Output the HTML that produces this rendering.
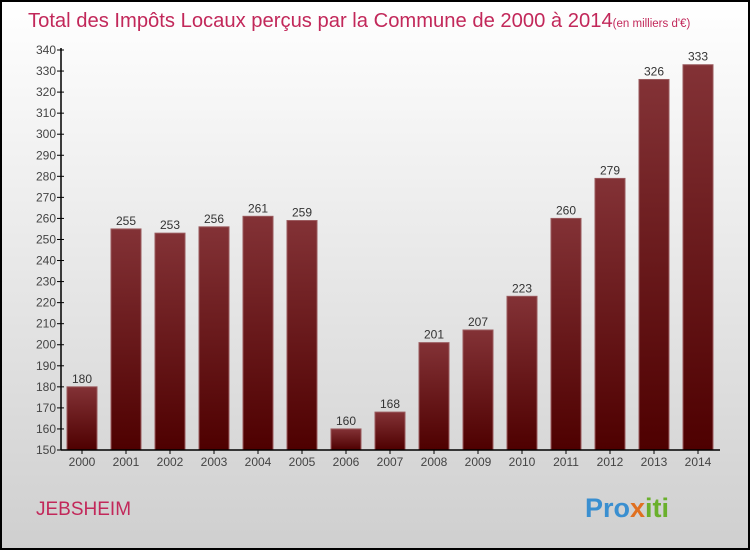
<!DOCTYPE html>
<html><head><meta charset="utf-8"><style>
body{margin:0;width:750px;height:550px;overflow:hidden;font-family:"Liberation Sans",sans-serif}
</style></head><body>
<svg width="750" height="550">
<defs>
<linearGradient id="bg" x1="0" y1="0" x2="0" y2="1"><stop offset="0" stop-color="#ffffff"/><stop offset="1" stop-color="#cfcfcf"/></linearGradient>
<linearGradient id="bar" x1="0" y1="0" x2="0" y2="1"><stop offset="0" stop-color="#833236"/><stop offset="1" stop-color="#4e0000"/></linearGradient>
</defs>
<rect x="1" y="1" width="748" height="548" fill="url(#bg)" stroke="#000" stroke-width="2"/>
<text x="28" y="27" font-size="20.2" fill="#c2285a">Total des Impôts Locaux perçus par la Commune de 2000 à 2014<tspan font-size="11.5">(en milliers d'€)</tspan></text>
<text x="36" y="515" font-size="19" fill="#c2285a">JEBSHEIM</text>
<text x="585" y="517" font-size="27" font-weight="bold" fill="#3a8fd0">Pro<tspan fill="#e07020">x</tspan><tspan fill="#6ab02c">iti</tspan></text>
<g id="plot"></g>
</svg>
<script>
const categories=["2000","2001","2002","2003","2004","2005","2006","2007","2008","2009","2010","2011","2012","2013","2014"];
const values=[180,255,253,256,261,259,160,168,201,207,223,260,279,326,333];
const yTicks=[150,160,170,180,190,200,210,220,230,240,250,260,270,280,290,300,310,320,330,340];
const NS="http://www.w3.org/2000/svg";
const g=document.getElementById('plot');
const x0=61,yMin=150,yMax=340,yTop=50,yBot=450;
const y=v=>yBot-(v-yMin)/(yMax-yMin)*(yBot-yTop);
const xc=i=>82+i*44;
function el(t,a,txt){const e=document.createElementNS(NS,t);for(const k in a)e.setAttribute(k,a[k]);if(txt!==undefined)e.textContent=txt;g.appendChild(e);return e;}
yTicks.forEach(t=>{
 const l=el('line',{x1:x0-4,x2:x0+3,y1:y(t),y2:y(t),stroke:'#000'});
 
 
 const tx=el('text',{x:x0-5,y:y(t)+4,'font-size':12,fill:'#444','text-anchor':'end'},t);
 
 
});
values.forEach((v,i)=>{
 const r=el('rect',{x:xc(i)-15,y:y(v),width:30,height:yBot-y(v),fill:'url(#bar)',stroke:'#9a5a5d','stroke-width':1});
 
 
 const vl=el('text',{x:xc(i),y:y(v)-4,'font-size':12,fill:'#333','text-anchor':'middle'},v);
 
 
 const tk=el('line',{x1:xc(i),x2:xc(i),y1:yBot,y2:yBot+4,stroke:'#000'});
 
 
 const cl=el('text',{x:xc(i),y:yBot+16,'font-size':12,fill:'#444','text-anchor':'middle'},categories[i]);
 
 
});
const ya=el('line',{x1:x0,x2:x0,y1:yTop-2,y2:yBot,stroke:'#000','stroke-width':1.5});


const xa=el('line',{x1:x0,x2:720,y1:yBot,y2:yBot,stroke:'#000','stroke-width':1.5});


</script>
</body></html>
